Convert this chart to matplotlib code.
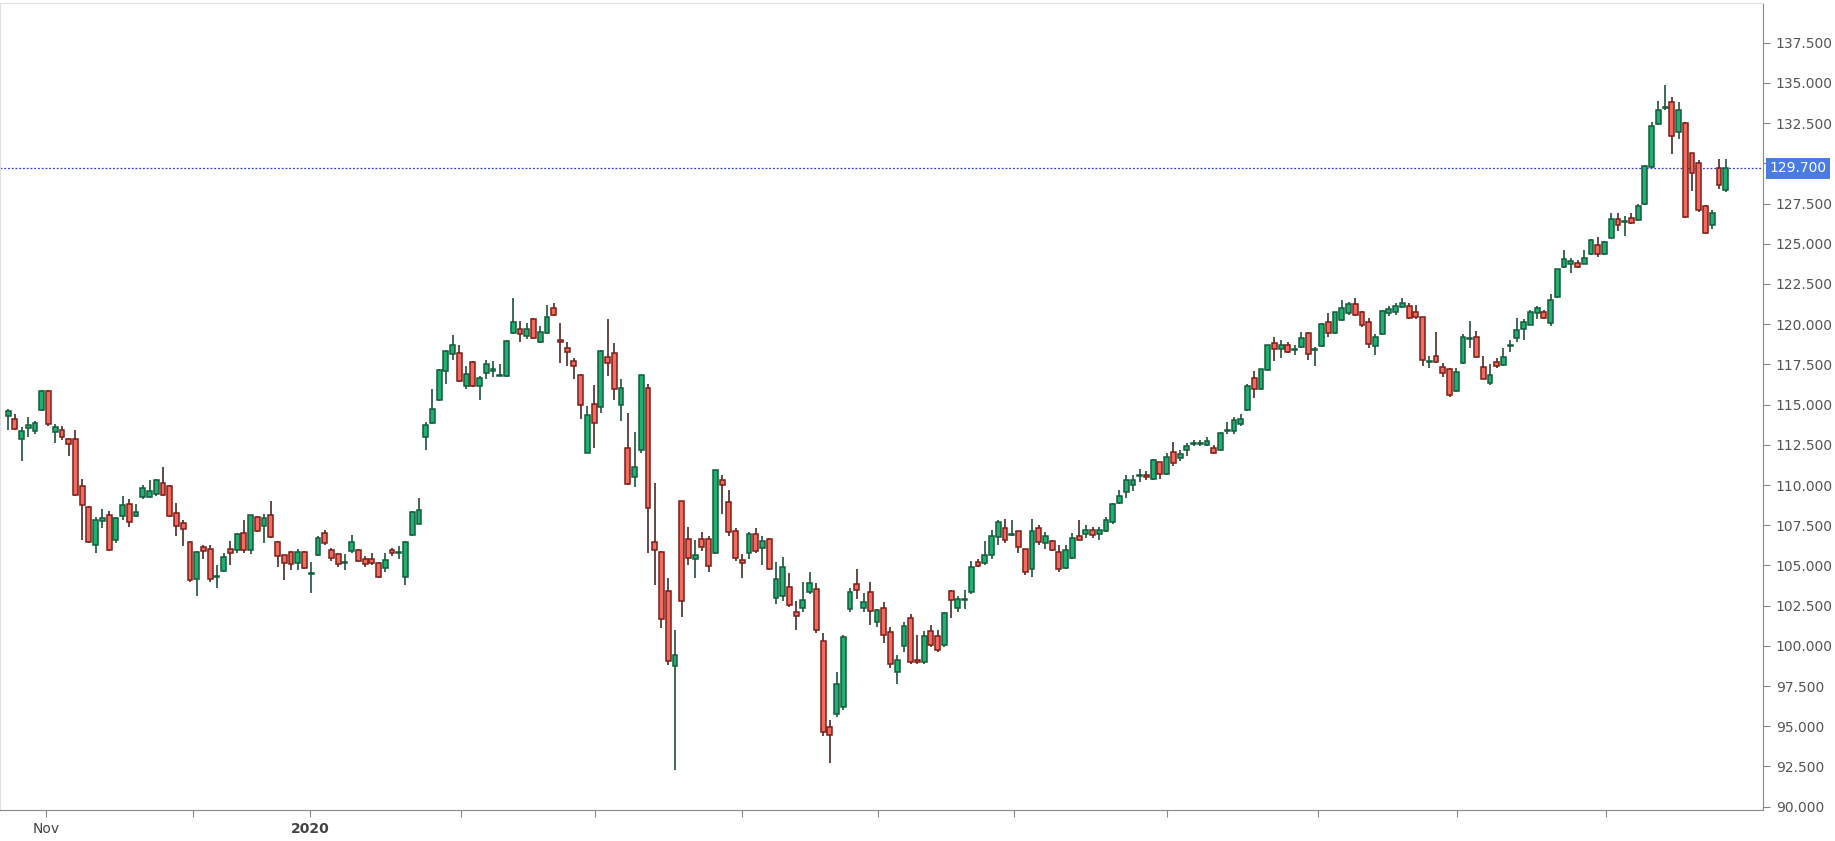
import matplotlib
matplotlib.use("Agg")
import matplotlib.pyplot as plt
import numpy as np

opens = [114.3,114.1,112.9,113.6,113.4,114.7,115.8,113.3,113.4,112.8,112.8,109.9,108.6,106.3,107.8,108.1,106.6,108.1,108.8,108.1,
109.3,109.3,109.5,110.1,109.9,108.2,107.6,106.4,104.2,106.1,106.0,104.3,104.7,106.0,106.0,107.0,106.0,108.0,107.5,108.1,
106.4,105.6,105.8,105.2,105.8,104.5,105.7,107.0,105.9,105.7,105.2,105.9,105.9,105.4,105.4,105.1,104.9,105.9,105.8,104.3,
106.9,107.6,113.0,113.9,115.3,117.1,118.2,118.2,116.2,117.6,116.2,117.0,117.1,116.8,116.8,119.5,119.7,119.3,120.3,118.9,
119.5,121.0,119.0,118.5,117.7,116.8,112.0,115.0,114.9,117.9,118.2,115.0,112.3,110.5,112.2,116.0,106.4,105.8,103.4,98.8,
109.0,106.6,105.4,106.6,106.6,105.8,110.3,108.9,107.1,105.3,105.8,106.9,106.1,106.6,103.0,103.1,103.6,102.1,102.4,103.4,
103.5,100.3,94.9,95.8,96.2,102.3,103.8,102.4,103.3,101.5,102.3,100.8,98.4,100.0,101.7,99.1,99.0,100.9,100.6,100.1,
103.4,102.4,102.9,103.4,105.2,105.2,105.7,106.8,107.3,106.9,107.1,106.0,104.8,107.3,106.4,106.5,105.8,104.9,105.5,106.8,
107.0,107.2,107.0,107.2,107.7,108.9,109.6,110.0,110.6,110.6,110.4,111.4,110.7,112.0,111.7,112.2,112.6,112.6,112.5,112.3,
112.2,113.4,113.4,113.8,114.7,116.6,116.0,117.2,118.8,118.5,118.7,118.4,118.6,119.4,118.4,118.7,120.1,119.5,120.3,120.7,
121.2,120.7,120.1,118.7,119.4,120.7,120.8,121.1,121.1,120.7,120.4,117.7,118.0,117.3,117.2,115.9,117.6,119.1,119.2,117.3,
116.4,117.6,117.5,118.7,119.2,119.7,120.0,120.7,120.7,120.1,121.7,123.6,123.8,123.8,123.8,124.4,124.9,124.4,125.4,126.5,
126.4,126.6,126.5,127.5,129.8,132.5,133.5,133.8,132.0,132.5,130.6,130.0,127.3,126.2,129.7,128.4]
highs = [114.7,114.4,113.6,114.2,114.0,115.9,115.9,113.8,113.7,112.9,113.4,110.4,108.7,108.0,108.5,108.4,108.0,109.3,109.1,108.8,
110.0,110.3,110.4,111.1,110.0,108.9,107.8,106.5,105.9,106.3,106.3,105.0,105.8,106.5,107.0,107.8,108.1,108.1,108.2,109.0,
106.5,105.6,105.9,106.0,105.9,105.2,106.8,107.2,106.1,105.8,105.7,106.9,106.0,105.6,105.8,105.2,105.8,106.1,106.2,106.5,
108.4,109.2,113.9,116.0,117.2,118.4,119.3,118.7,117.4,117.7,116.8,117.8,117.7,117.5,119.0,121.6,120.2,120.1,120.4,119.9,
121.2,121.3,120.1,118.9,117.9,116.9,114.9,116.2,118.4,120.3,118.8,116.6,114.5,113.3,116.8,116.3,110.1,105.9,104.2,101.0,
109.0,107.4,106.6,107.1,106.8,110.9,110.6,109.7,107.3,105.7,107.1,107.3,106.8,106.7,105.2,105.5,104.5,102.8,104.0,104.6,
103.9,100.8,95.4,98.4,100.7,103.6,104.8,103.3,104.0,102.3,102.7,101.2,99.4,101.5,102.0,100.7,100.9,101.3,101.0,102.1,
103.5,103.1,103.5,105.3,105.4,106.5,107.2,107.8,107.9,107.8,107.1,106.0,107.9,107.5,107.1,106.6,106.3,106.3,107.0,107.8,
107.5,107.4,107.4,108.0,108.9,109.7,110.6,110.6,111.0,110.9,111.6,111.4,112.0,112.7,112.2,112.6,112.8,112.8,113.0,112.5,
113.3,113.9,114.2,114.4,116.3,117.1,117.2,118.7,119.2,119.0,118.9,118.7,119.5,119.5,118.6,120.1,120.7,120.7,121.5,121.4,
121.6,120.8,120.4,119.4,120.9,121.1,121.3,121.6,121.3,121.2,120.4,118.0,119.5,117.6,117.3,117.3,119.4,120.2,119.6,118.0,
117.5,117.9,118.5,119.0,120.4,120.3,120.9,121.1,120.9,121.9,123.4,124.6,124.1,124.0,124.6,125.3,125.4,125.2,126.9,126.9,
126.7,126.9,127.5,129.9,132.6,133.9,134.9,134.1,133.8,132.6,130.6,130.2,127.4,127.1,130.3,130.3]
lows = [113.4,113.4,111.5,113.0,113.2,114.6,113.7,112.6,112.8,111.8,109.3,106.6,106.4,105.8,107.3,105.9,106.4,107.8,107.4,108.0,
109.1,109.2,109.3,109.3,108.0,106.8,106.2,104.0,103.1,105.4,104.0,103.6,104.6,105.0,105.8,105.8,105.7,107.1,106.4,106.7,
104.9,104.1,104.7,104.7,104.8,103.3,105.6,106.3,105.3,104.9,104.7,105.8,105.2,104.9,105.0,104.2,104.6,105.6,105.4,103.8,
106.8,107.6,112.2,113.8,115.2,116.3,117.8,116.4,116.0,116.1,115.3,116.6,116.7,116.8,116.7,119.4,118.9,119.1,119.1,118.8,
119.4,120.5,117.6,117.4,116.6,114.1,112.0,112.3,114.5,116.8,115.3,114.0,110.0,109.9,112.0,105.8,103.8,101.1,98.8,92.3,
101.8,105.0,104.2,105.9,104.6,105.7,108.2,106.8,105.3,104.2,105.4,105.8,105.0,104.7,102.6,102.8,102.4,101.0,102.1,103.2,
100.8,94.4,92.7,95.6,96.0,102.1,102.9,102.1,101.3,101.2,100.2,98.6,97.6,99.6,98.9,98.9,98.9,99.9,99.6,99.9,
101.7,102.1,102.3,103.2,104.9,105.0,105.4,106.3,106.4,106.8,105.8,104.4,104.3,106.3,106.0,105.9,104.6,104.8,105.4,106.6,
106.7,106.7,106.6,107.1,107.6,108.8,109.2,109.6,110.2,110.3,110.3,110.4,110.6,111.2,111.5,111.8,112.4,112.4,112.4,111.9,
112.1,113.2,113.2,113.7,114.6,115.4,115.9,117.1,117.7,117.9,118.2,118.1,118.5,117.8,117.4,118.6,119.2,119.4,120.2,120.6,
120.5,119.8,118.5,118.1,119.3,120.5,120.6,121.0,120.3,120.3,117.4,117.3,117.6,116.7,115.5,115.8,117.5,118.5,117.9,116.6,
116.2,117.3,117.4,118.3,118.9,119.0,120.0,120.3,120.3,119.9,121.6,123.5,123.2,123.5,123.8,124.3,124.2,124.3,125.4,125.8,
125.5,126.2,126.4,127.4,129.7,132.4,133.3,130.6,131.5,126.6,128.3,127.0,125.6,125.9,128.4,128.2]
closes = [114.6,113.5,113.3,113.7,113.8,115.8,113.8,113.6,113.0,112.6,109.4,108.8,106.5,107.8,107.9,106.0,107.9,108.7,107.7,108.3,
109.8,109.6,110.3,109.4,108.1,107.5,107.3,104.1,105.8,105.9,104.2,104.3,105.5,105.8,106.9,106.0,108.1,107.2,107.9,106.8,
105.6,105.2,105.1,105.8,104.9,104.5,106.7,106.4,105.5,105.1,105.2,106.4,105.3,105.1,105.2,104.3,105.3,105.8,105.8,106.4,
108.3,108.4,113.7,114.7,117.1,118.3,118.7,116.5,116.9,116.2,116.6,117.5,117.2,116.8,118.9,120.1,119.4,119.7,119.2,119.5,
120.4,120.6,118.9,118.3,117.4,115.0,114.3,113.9,118.3,117.6,116.0,116.0,110.1,111.1,116.8,108.6,106.0,101.7,99.1,99.4,
102.8,105.5,105.6,106.2,105.0,110.9,110.0,107.1,105.5,105.2,106.9,105.9,106.5,104.8,104.1,104.9,102.6,101.9,102.8,103.9,
101.0,94.7,94.5,97.6,100.5,103.3,103.5,102.7,102.2,102.2,100.7,98.9,99.1,101.2,99.0,99.0,100.6,100.1,99.8,102.0,
102.9,102.9,102.9,104.9,105.0,105.6,106.8,107.7,106.6,106.9,106.2,104.6,107.1,106.5,106.8,106.0,104.8,105.9,106.7,106.6,
107.2,106.9,107.2,107.8,108.8,109.3,110.3,110.3,110.6,110.5,111.5,110.7,111.7,111.4,111.9,112.4,112.6,112.6,112.7,112.0,
113.2,113.4,114.0,114.1,116.1,116.0,117.2,118.7,118.5,118.7,118.3,118.4,119.1,118.2,118.4,120.0,119.5,120.7,121.0,121.2,
120.6,120.0,118.8,119.2,120.8,120.9,121.1,121.3,120.4,120.5,117.8,117.7,117.7,117.0,115.6,117.0,119.2,119.1,118.0,116.6,
116.8,117.4,117.9,118.7,119.6,120.1,120.7,121.0,120.4,121.5,123.4,124.0,123.9,123.6,124.1,125.2,124.4,125.1,126.5,126.2,
126.4,126.3,127.3,129.8,132.3,133.3,133.5,131.7,133.3,126.7,129.4,127.1,125.7,126.9,128.7,129.7]

month_tick_pos = [5.7, 27.4, 44.8, 67.3, 87.2, 108.9, 129.2, 149.3, 172.1, 194.4, 215.1, 237.2]
month_tick_labels = ["Nov", "", "2020", "", "", "", "", "", "", "", "", ""]
y_ticks = [90.0, 92.5, 95.0, 97.5, 100.0, 102.5, 105.0, 107.5, 110.0, 112.5, 115.0, 117.5,
           120.0, 122.5, 125.0, 127.5, 130.0, 132.5, 135.0, 137.5]
last_price = 129.7

o = np.array(opens); h = np.array(highs); l = np.array(lows); c = np.array(closes)
n = len(c)
x = np.arange(n)
up = c >= o
y0, y1 = 89.8, 140.0

fig = plt.figure(figsize=(18.35, 8.41), dpi=100)
fig.patch.set_facecolor("white")
ax = fig.add_axes([0.0, 0.037, 0.961, 0.96])

green = "#1fb070"; red = "#f26b5e"
ax.vlines(x, l, h, colors=np.where(up, "#2f5f48", "#5a3a36"), linewidth=1.3, zorder=1)
ax.bar(x, np.abs(c - o) + 0.06, bottom=np.minimum(o, c) - 0.03, width=0.72,
       color=np.where(up, green, red), edgecolor=np.where(up, "#145c3c", "#7a1f1a"),
       linewidth=1.1, zorder=2)

ax.axhline(last_price, color="#3a3ad0", linestyle=(0, (1.5, 1.5)), linewidth=0.9, zorder=0)

ax.set_xlim(-1.2, 260.6)
ax.set_ylim(y0, y1)
ax.yaxis.tick_right()
ax.set_yticks(y_ticks)
ax.set_yticklabels(["" if abs(v - last_price) < 0.5 else f"{v:.3f}" for v in y_ticks])
ax.tick_params(axis="y", direction="out", length=5, colors="#888888", labelcolor="#555555",
               labelsize=10, pad=4)
ax.set_xticks(month_tick_pos)
ax.set_xticklabels(month_tick_labels)
for lab in ax.get_xticklabels():
    if lab.get_text() == "2020":
        lab.set_fontweight("bold")
ax.tick_params(axis="x", direction="out", length=5, colors="#888888", labelcolor="#444444",
               labelsize=10, pad=4)
for s in ["top", "left"]:
    ax.spines[s].set_color("#e0e0e0")
for s in ["right", "bottom"]:
    ax.spines[s].set_color("#888888")

ax.text(1.0035, (last_price - y0) / (y1 - y0), f"{last_price:.3f}", transform=ax.transAxes,
        va="center", ha="left", fontsize=10, color="white",
        bbox=dict(boxstyle="square,pad=0.25", facecolor="#4a7be0", edgecolor="none"))

fig.savefig("out.png", dpi=100, facecolor="white")
